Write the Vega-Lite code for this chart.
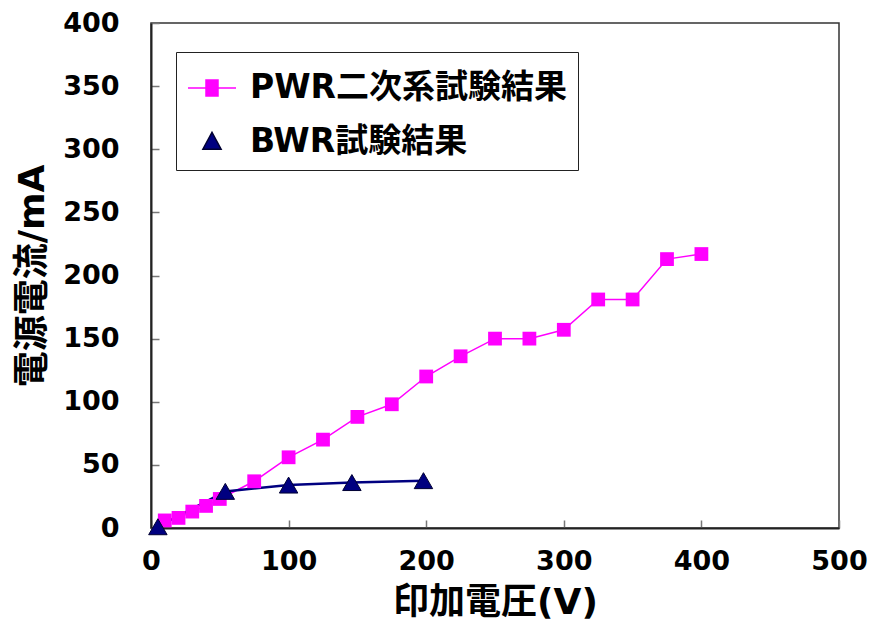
{
  "$schema": "https://vega.github.io/schema/vega-lite/v6.json",
  "autosize": "none",
  "width": 688,
  "height": 505,
  "padding": {"left": 151, "top": 23, "right": 40, "bottom": 92},
  "background": "white",
  "config": {
    "view": {"stroke": "#333", "strokeWidth": 1.5},
    "font": "DejaVu Sans, Noto Sans CJK JP",
    "axis": {
      "grid": false,
      "domainColor": "#222",
      "domainWidth": 2,
      "tickColor": "#777",
      "tickWidth": 1.5,
      "tickSize": -8,
      "labelFont": "DejaVu Sans, Noto Sans CJK JP",
      "labelFontSize": 27,
      "labelFontWeight": "bold",
      "labelColor": "#000",
      "titleFont": "DejaVu Sans, Noto Sans CJK JP",
      "titleFontSize": 36,
      "titleFontWeight": "bold",
      "titleColor": "#000"
    }
  },
  "data": {
    "values": [
      {"series": "PWR二次系試験結果", "v": 10, "i": 6},
      {"series": "PWR二次系試験結果", "v": 20, "i": 8},
      {"series": "PWR二次系試験結果", "v": 30, "i": 13},
      {"series": "PWR二次系試験結果", "v": 40, "i": 17.5},
      {"series": "PWR二次系試験結果", "v": 50, "i": 23},
      {"series": "PWR二次系試験結果", "v": 75, "i": 37},
      {"series": "PWR二次系試験結果", "v": 100, "i": 56},
      {"series": "PWR二次系試験結果", "v": 125, "i": 70},
      {"series": "PWR二次系試験結果", "v": 150, "i": 88},
      {"series": "PWR二次系試験結果", "v": 175, "i": 98},
      {"series": "PWR二次系試験結果", "v": 200, "i": 120},
      {"series": "PWR二次系試験結果", "v": 225, "i": 136},
      {"series": "PWR二次系試験結果", "v": 250, "i": 150},
      {"series": "PWR二次系試験結果", "v": 275, "i": 150},
      {"series": "PWR二次系試験結果", "v": 300, "i": 157},
      {"series": "PWR二次系試験結果", "v": 325, "i": 181},
      {"series": "PWR二次系試験結果", "v": 350, "i": 181},
      {"series": "PWR二次系試験結果", "v": 375, "i": 213},
      {"series": "PWR二次系試験結果", "v": 400, "i": 217},
      {"series": "BWR試験結果", "v": 5, "i": 1},
      {"series": "BWR試験結果", "v": 54, "i": 29},
      {"series": "BWR試験結果", "v": 100, "i": 34},
      {"series": "BWR試験結果", "v": 146, "i": 36},
      {"series": "BWR試験結果", "v": 198, "i": 37.5}
    ]
  },
  "encoding": {
    "x": {
      "field": "v", "type": "quantitative",
      "scale": {"domain": [0, 500], "nice": false},
      "axis": {"values": [0, 100, 200, 300, 400, 500], "title": "印加電圧(V)", "labelPadding": 28, "labelDx": 6, "titlePadding": 11, "labelFlush": false}
    },
    "y": {
      "field": "i", "type": "quantitative",
      "scale": {"domain": [0, 400], "nice": false},
      "axis": {"values": [0, 50, 100, 150, 200, 250, 300, 350, 400], "title": "電源電流/mA", "labelPadding": 40, "titlePadding": 11, "labelFlush": false}
    }
  },
  "layer": [
    {
      "transform": [{"filter": "datum.series === 'PWR二次系試験結果'"}],
      "mark": {"type": "line", "color": "#FF00FF", "strokeWidth": 1.5},
      "encoding": {}
    },
    {
      "transform": [{"filter": "datum.series === 'BWR試験結果'"}],
      "mark": {"type": "line", "color": "#000080", "strokeWidth": 2.5},
      "encoding": {}
    },
    {
      "transform": [{"filter": "datum.series === 'PWR二次系試験結果'"}],
      "mark": {"type": "point", "shape": "square", "filled": true, "opacity": 1, "size": 190, "color": "#FF00FF"}
    },
    {
      "transform": [{"filter": "datum.series === 'BWR試験結果'"}],
      "mark": {"type": "point", "shape": "triangle-up", "filled": true, "opacity": 1, "size": 340, "fill": "#000080", "stroke": "#000033", "strokeWidth": 1}
    },
    {
      "transform": [{"filter": "false"}],
      "mark": {"type": "point", "filled": true, "opacity": 1},
      "encoding": {
        "color": {
          "field": "series", "type": "nominal",
          "scale": {"domain": ["PWR二次系試験結果", "BWR試験結果"], "range": ["#FF00FF", "#000080"]},
          "legend": {
            "title": null,
            "orient": "none",
            "legendX": 25,
            "legendY": 29,
            "strokeColor": "#222",
            "padding": 11,
            "rowPadding": 12,
            "symbolSize": 2304,
            "symbolStrokeWidth": 1.5,
            "symbolOpacity": 1,
            "labelOffset": 13,
            "labelFont": "DejaVu Sans, Noto Sans CJK JP",
            "labelFontSize": 33,
            "labelFontWeight": "bold",
            "labelColor": "#000",
            "labelLimit": 500,
            "labelExpr": "datum.label + ' '"
          }
        },
        "shape": {
          "field": "series", "type": "nominal",
          "scale": {"domain": ["PWR二次系試験結果", "BWR試験結果"], "range": ["M-1,0H1M-0.25,-0.33H0.25V0.33H-0.25Z", "M0,-0.4L0.38,0.3L-0.38,0.3Z"]}
        },
        "stroke": {
          "field": "series", "type": "nominal",
          "scale": {"domain": ["PWR二次系試験結果", "BWR試験結果"], "range": ["#FF00FF", "#000033"]}
        }
      }
    }
  ]
}
